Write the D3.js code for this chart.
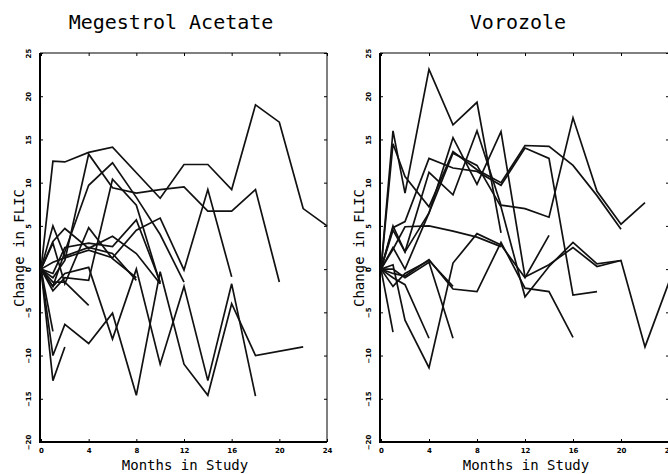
<!DOCTYPE html>
<html>
<head>
<meta charset="utf-8">
<script src="https://cdn.jsdelivr.net/npm/d3@7"></script>
<style>
  body { margin: 0; background: #fff; }
  svg { display: block; }
</style>
</head>
<body>
<div id="chart-area"></div>
<script>
// one array per patient: [month, change in FLIC]
var megestrolLines = [
    [[0,0],[1,12.5],[2,12.4],[4,13.5],[6,14.1],[10,8.2],[12,12.1],[14,12.1],[16,9.2],[18,19],[20,17],[22,7],[24,5]],
    [[0,0],[1,-1],[2,1],[4,13.3],[6,9.4],[8,8.8],[10,9.2],[12,9.5],[14,6.7],[16,6.7],[18,9.2],[20,-1.5]],
    [[0,0],[1,-2],[2,2],[4,9.7],[6,12.3],[8,8.3],[10,4],[12,-1.5]],
    [[0,0],[1,0.8],[2,1.3],[4,2.2],[6,1.3],[8,4.5],[10,5.9],[12,-0.1],[14,9.2],[16,-0.9]],
    [[0,0],[1,-2.5],[2,-1],[4,-1.3],[6,10.4],[8,7.4],[10,-1.7]],
    [[0,0],[1,-2],[2,-0.5],[4,0.2],[6,-8.1],[8,0],[10,-11],[12,-2],[14,-12.9],[16,-1.7],[18,-14.7]],
    [[0,0],[1,-10],[2,-6.4],[4,-8.6],[6,-5.1],[8,-14.6],[10,-0.3],[12,-11],[14,-14.6],[16,-4],[18,-10],[22,-9]],
    [[0,0],[1,-1.5],[2,-1.5],[4,-4.2]],
    [[0,0],[1,5],[2,1.5],[4,2.5],[6,1.8],[8,-1.3]],
    [[0,0],[1,3.2],[2,4.7],[4,2.4],[6,3.8],[8,1.8],[10,-1.7]],
    [[0,0],[1,-12.9],[2,-9]],
    [[0,0],[1,-7.2]],
    [[0,0],[1,3],[2,-1.7],[4,4.8],[6,1.2],[8,-1]],
    [[0,0],[1,-0.5],[2,2.5],[4,3],[6,2.6],[8,5.7],[10,-1.5]]
]

var vorozoleLines = [
    [[0,0],[1,16],[2,8.8],[4,23.1],[6,16.7],[8,19.3],[10,4.2]],
    [[0,0],[1,14.5],[2,10.7],[4,7.2],[6,13.6],[8,11.5],[10,10],[12,14.3],[14,14.2],[16,12],[18,8.5],[20,4.6]],
    [[0,0],[1,5],[2,2],[4,11.2],[6,8.6],[8,16],[10,7.4],[12,7],[14,6],[16,17.5],[18,9],[20,5.2],[22,7.7]],
    [[0,0],[1,2.5],[2,0],[4,6.5],[6,15.2],[8,9.8],[10,15.9],[12,-0.9],[14,0.5],[16,2.5],[18,0.3],[20,1],[22,-9],[24,-1.5]],
    [[0,0],[1,4.8],[2,5.5],[4,12.8],[6,11.7],[8,11.3],[10,9.7],[12,14],[14,12.8],[16,-3],[18,-2.6]],
    [[0,0],[1,4.5],[2,2],[4,6.5],[6,13.4],[8,12],[10,7.2],[12,-3.2],[14,0.3],[16,3.1],[18,0.6],[20,1]],
    [[0,0],[1,-0.5],[2,-0.8],[4,1.1],[6,-2.3],[8,-2.6],[10,3.1],[12,-2.2],[14,-2.6],[16,-7.9]],
    [[0,0],[1,0],[2,-1],[4,0.8],[6,-8]],
    [[0,0],[1,0.5],[2,-5.9],[4,-11.4],[6,0.7],[8,4.1],[10,2.8],[12,-1],[14,3.9]],
    [[0,0],[1,-1],[2,-1.8],[4,-8]],
    [[0,0],[1,-7.3]],
    [[0,0],[1,2.3],[2,4.9],[4,5],[6,4.4],[8,3.7],[10,2.6]],
    [[0,0],[1,-2],[2,-0.5],[4,1],[6,-2]]
]

var panelTitles = ["Megestrol Acetate", "Vorozole"]
var xTicks = [0, 4, 8, 12, 16, 20, 24]
var yTicks = [-20, -15, -10, -5, 0, 5, 10, 15, 20, 25]

var cw = 668
var ch = 474
var yTop = 53, yBot = 442

var svg = d3.select("#chart-area").append("svg")
    .attr("width", cw)
    .attr("height", ch)

var panels = [
    {title: panelTitles[0], lines: megestrolLines, x0: 41, x1: 327, tx: 171},
    {title: panelTitles[1], lines: vorozoleLines, x0: 381, x1: 669, tx: 518}
]

panels.forEach(p => {
    var x = d3.scaleLinear().domain([0, 24]).range([p.x0, p.x1])
    var y = d3.scaleLinear().domain([-20, 25]).range([yBot, yTop])
    var g = svg.append("g")

    // frame
    g.append("line").attr("x1", p.x0 - 1).attr("x2", p.x0 - 1).attr("y1", yTop).attr("y2", yBot + 1)
        .attr("stroke", "#000").attr("stroke-width", 2)
    g.append("line").attr("x1", p.x0 - 2).attr("x2", p.x1).attr("y1", yBot).attr("y2", yBot)
        .attr("stroke", "#000").attr("stroke-width", 2)
    g.append("line").attr("x1", p.x0 - 1).attr("x2", p.x1).attr("y1", yTop).attr("y2", yTop)
        .attr("stroke", "#000").attr("stroke-width", 1)
    g.append("line").attr("x1", p.x1).attr("x2", p.x1).attr("y1", yTop).attr("y2", yBot)
        .attr("stroke", "#000").attr("stroke-width", 1)

    // bottom axis
    var bottomAxis = d3.axisBottom(x).tickValues(xTicks).tickSize(-3).tickSizeOuter(0).tickPadding(6)
    var bx = g.append("g").attr("transform", "translate(0," + yBot + ")").call(bottomAxis)
    bx.select(".domain").remove()
    bx.selectAll("text").attr("font-size", "7px").attr("font-weight", "bold")
        .attr("font-family", "DejaVu Sans")

    // top ticks
    var topAxis = d3.axisTop(x).tickValues(xTicks).tickSize(-3).tickFormat("")
    var tx = g.append("g").attr("transform", "translate(0," + yTop + ")").call(topAxis)
    tx.select(".domain").remove()

    // left axis with rotated labels
    var leftAxis = d3.axisLeft(y).tickValues(yTicks).tickSize(0).tickPadding(0)
    var ly = g.append("g").attr("transform", "translate(" + (p.x0 - 1) + ",0)").call(leftAxis)
    ly.select(".domain").remove()
    ly.selectAll("text")
        .attr("x", 0).attr("dy", 0)
        .attr("text-anchor", "middle")
        .attr("transform", "translate(-9,0) rotate(-90)")
        .attr("font-size", "7px").attr("font-weight", "bold")
        .attr("font-family", "DejaVu Sans")
    ly.selectAll(".tick").append("line")
        .attr("x1", 0).attr("x2", 3).attr("stroke", "#000")

    // right ticks
    var rightAxis = d3.axisRight(y).tickValues(yTicks).tickSize(-3).tickFormat("")
    var ry = g.append("g").attr("transform", "translate(" + p.x1 + ",0)").call(rightAxis)
    ry.select(".domain").remove()

    // patient lines
    var line = d3.line().x(d => x(d[0])).y(d => y(d[1]))
    g.selectAll("path.patient")
        .data(p.lines)
        .enter()
        .append("path")
        .attr("class", "patient")
        .attr("d", line)
        .attr("fill", "none")
        .attr("stroke", "#111")
        .attr("stroke-width", 1.7)
        .attr("stroke-linejoin", "miter")

    // titles and labels
    var mid = (p.x0 + p.x1) / 2
    g.append("text")
        .attr("x", p.tx).attr("y", 29)
        .attr("text-anchor", "middle")
        .attr("font-family", "DejaVu Sans Mono")
        .attr("font-size", "20px")
        .text(p.title)

    g.append("text")
        .attr("x", mid + 1).attr("y", 470)
        .attr("text-anchor", "middle")
        .attr("font-family", "DejaVu Sans Mono")
        .attr("font-size", "14px")
        .text("Months in Study")

    g.append("text")
        .attr("transform", "translate(" + (p.x0 - 17) + ",248) rotate(-90)")
        .attr("text-anchor", "middle")
        .attr("font-family", "DejaVu Sans Mono")
        .attr("font-size", "14px")
        .text("Change in FLIC")
})
</script>
</body>
</html>
